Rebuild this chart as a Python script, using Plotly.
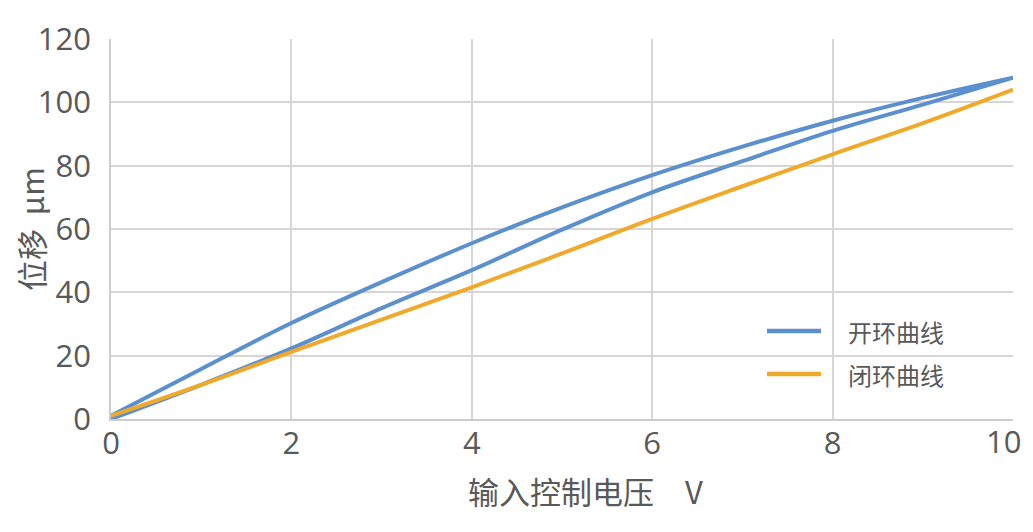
import plotly.graph_objects as go

voltage = [0, 1, 2, 3, 4, 5, 6, 7, 8, 9, 10]
open_up = [0, 10.8, 22.3, 35.0, 47.0, 59.8, 71.6, 81.4, 91.0, 99.3, 107.8]
open_down = [1.0, 15.8, 30.3, 43.2, 55.5, 66.8, 77.0, 86.0, 94.2, 101.4, 107.8]
closed_loop = [1.0, 10.8, 21.2, 31.4, 41.6, 52.3, 63.2, 73.5, 83.6, 93.4, 104.0]

x_ticks = [0, 2, 4, 6, 8, 10]
x_tick_labels = ["0", "2", "4", "6", "8", "10"]
y_ticks = [0, 20, 40, 60, 80, 100, 120]
y_tick_labels = ["0", "20", "40", "60", "80", "100", "120"]
legend_names = ["开环曲线", "闭环曲线"]
x_title = "输入控制电压\u3000V"
y_title = "位移  μm"

BLUE = "#5b8fcd"
ORANGE = "#f0a92b"
CJK = "Noto Sans CJK SC"
NUM = "Open Sans, Noto Sans CJK SC"
TXT = "#595959"
GRID = "#d6d6d6"

# page has an 8px body margin; figure coordinates below are page pixels minus 8
OFF = 8
W, H = 1025, 524
L = 111 - OFF
T = 39 - OFF
R = W - (1013 - OFF)
B = H - (419 - OFF)
PW, PH = W - L - R, H - T - B

def px_x(p):
    return (p - OFF - L) / PW

def px_y(p):
    return (H - B - (p - OFF)) / PH

open_x = voltage + voltage[::-1]
open_y = open_up + open_down[::-1]

fig = go.Figure()
fig.add_trace(go.Scatter(x=open_x, y=open_y, mode="lines", name=legend_names[0],
                         line=dict(color=BLUE, width=4, shape="spline", smoothing=1.0),
                         showlegend=False))
fig.add_trace(go.Scatter(x=voltage, y=closed_loop, mode="lines", name=legend_names[1],
                         line=dict(color=ORANGE, width=4, shape="spline", smoothing=1.0),
                         showlegend=False))

shapes = []
annotations = []
for name, color, ypix in [(legend_names[0], BLUE, 331), (legend_names[1], ORANGE, 374)]:
    shapes.append(dict(type="line", xref="paper", yref="paper",
                       x0=px_x(767), x1=px_x(821), y0=px_y(ypix), y1=px_y(ypix),
                       line=dict(color=color, width=4.5)))
    annotations.append(dict(text=name, xref="paper", yref="paper",
                            x=px_x(846), y=px_y(ypix), xanchor="left", yanchor="middle",
                            showarrow=False, font=dict(size=24, color=TXT, family=CJK)))

annotations.append(dict(text=x_title, xref="paper", yref="paper",
                        x=px_x(585), y=px_y(491), xanchor="center", yanchor="middle",
                        showarrow=False, font=dict(size=31, color=TXT, family=CJK)))

# the last x tick label sits pulled inward (as in the reference) so it is not clipped
axis_ticktext = x_tick_labels[:-1] + [""]
annotations.append(dict(text=x_tick_labels[-1], xref="x", yref="paper",
                        x=x_ticks[-1], y=0, xanchor="center", yanchor="middle",
                        xshift=-10, yshift=-22, showarrow=False,
                        font=dict(size=31, color=TXT, family=NUM)))

fig.update_layout(
    width=W, height=H,
    margin=dict(l=L, r=R, t=T, b=B, autoexpand=False),
    paper_bgcolor="white", plot_bgcolor="white",
    font=dict(family=CJK, color=TXT),
    showlegend=False,
    shapes=shapes,
    annotations=annotations,
    xaxis=dict(range=[0, 10], tickvals=x_ticks, ticktext=axis_ticktext,
               showgrid=True, gridcolor=GRID, gridwidth=1.6,
               showline=True, linecolor="#cccccc", linewidth=1.6,
               zeroline=False, ticks="", ticklabelstandoff=-4,
               ticklabeloverflow="allow",
               tickfont=dict(size=31, color=TXT, family=NUM), automargin=False),
    yaxis=dict(range=[0, 120], tickvals=y_ticks, ticktext=y_tick_labels,
               showgrid=True, gridcolor=GRID, gridwidth=1.6,
               showline=True, linecolor="#cccccc", linewidth=1.6,
               zeroline=False, ticks="", ticklabelstandoff=12,
               ticklabeloverflow="allow",
               tickfont=dict(size=31, color=TXT, family=NUM), automargin=False,
               title=dict(text=y_title, standoff=0,
                          font=dict(size=31, color=TXT, family=CJK))),
)
fig.write_html("out.html")
